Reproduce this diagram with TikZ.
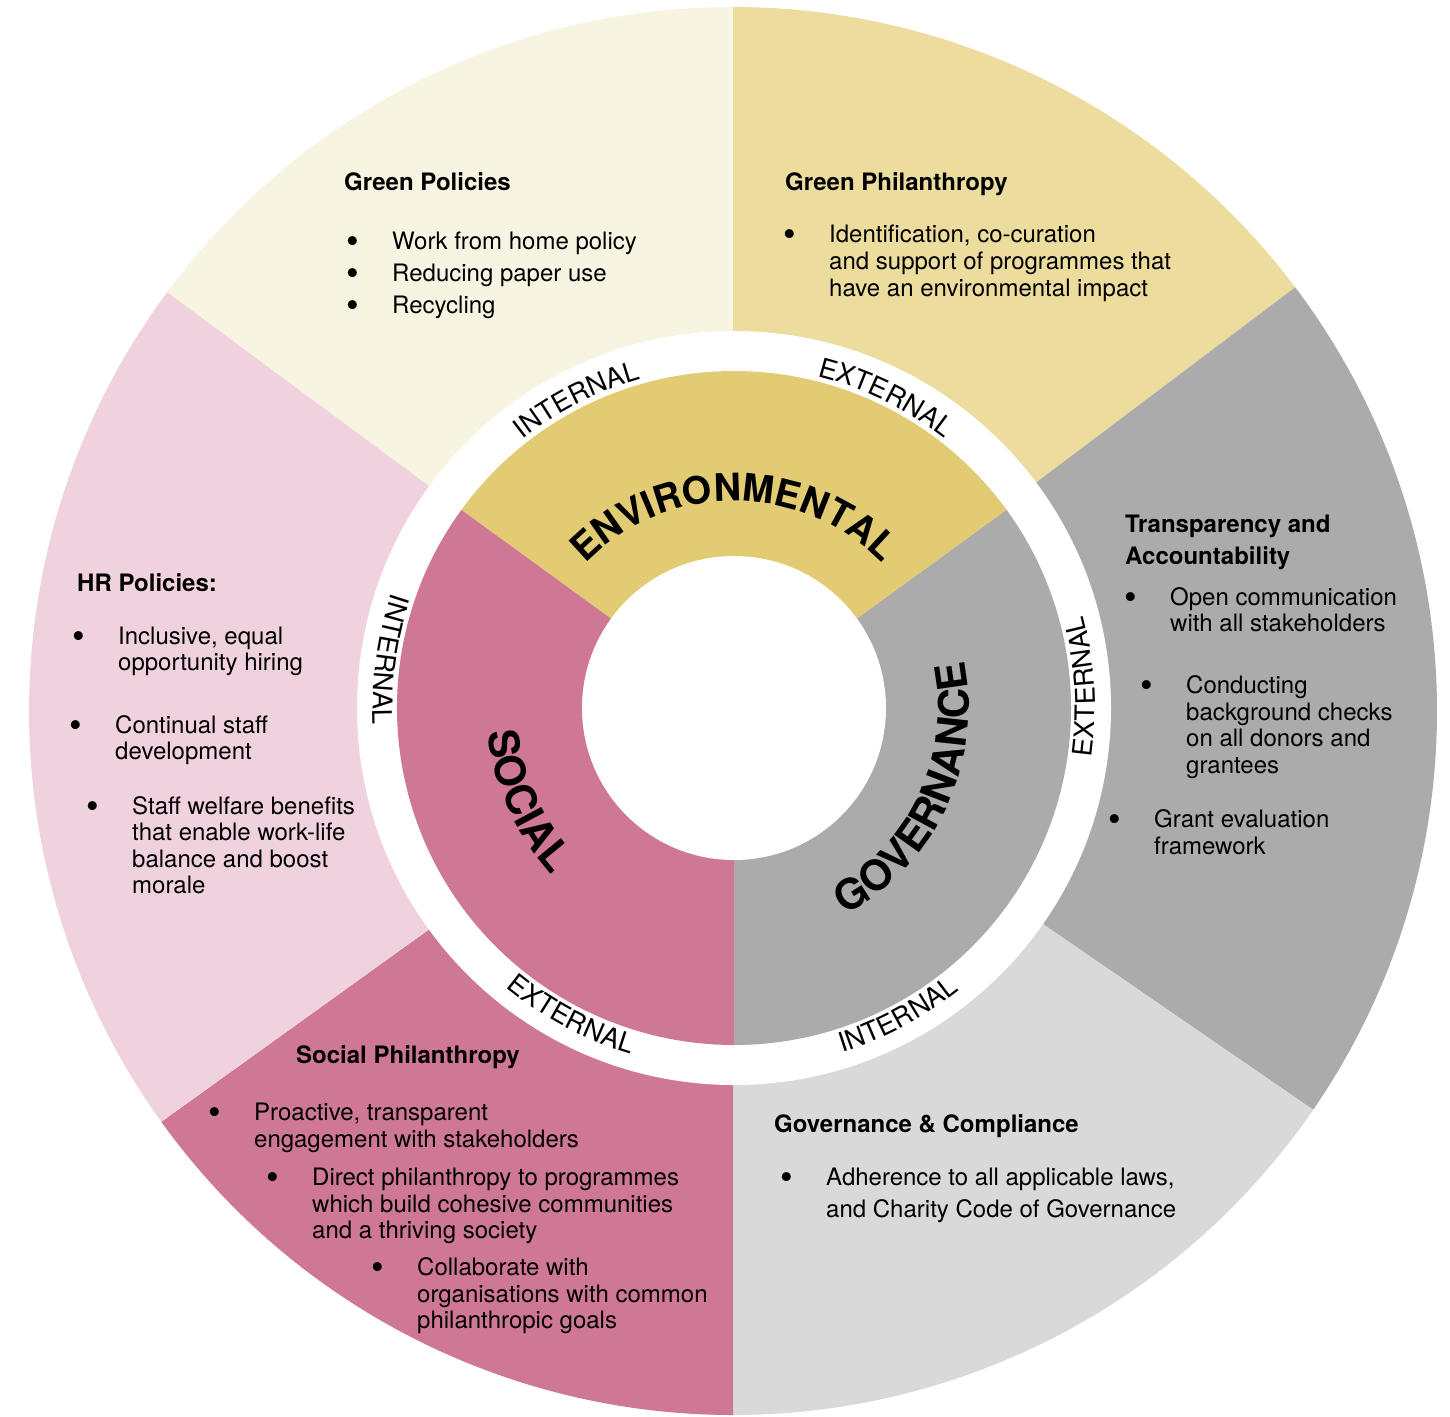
\documentclass[tikz,border=0pt]{standalone}
\usepackage{fontspec}
\usepackage{graphicx}
\setmainfont{TeX Gyre Heros}
\usetikzlibrary{decorations.text}

\definecolor{greenpol}{HTML}{F7F4E2}
\definecolor{greenphil}{HTML}{ECDC9D}
\definecolor{envcol}{HTML}{E3CB74}
\definecolor{govcol}{HTML}{ABABAB}
\definecolor{compcol}{HTML}{D9D9D9}
\definecolor{soccol}{HTML}{CF7896}
\definecolor{hrcol}{HTML}{F0D2DE}

\pgfdeclareradialshading{vignette}{\pgfpoint{0bp}{0bp}}{%
  color(0bp)=(white); color(44bp)=(white); color(71bp)=(black!8)}

\newcommand{\bitem}[1]{%
  \begin{tabular}[t]{@{}p{46pt}@{}l@{}}\raisebox{-4pt}{\scalebox{1.5}{\textbullet}} & \begin{tabular}[t]{@{}l@{}}#1\end{tabular}\end{tabular}}

\tikzset{
  heading/.style={anchor=base west, inner sep=0pt, font=\fontsize{24}{32}\selectfont\bfseries},
  item/.style={anchor=base west, inner sep=0pt, font=\fontsize{24}{#1}\selectfont},
  item/.default=26.5,
  ringtext/.style={decorate, decoration={text along path, text align=center,
      text={|\fontsize{27}{27}\selectfont|#1}}},
  bigtext/.style 2 args={decorate, decoration={text along path, text align=center,
      text={|\fontsize{#1}{#1}\selectfont\bfseries|#2}}}
}

\begin{document}
\begin{tikzpicture}[x=1pt,y=1pt]
	\useasboundingbox (0,0) rectangle (1450,-1416);
	% Fondo
	\shade[shading=vignette] (0,0) rectangle (1450,-1416);

	\begin{scope}[shift={(733,-711)}]
		% Sectores exteriores
		\fill[greenpol] (0,0) -- (90:704) arc[start angle=90, end angle=143.5, radius=704] -- cycle;
		\fill[greenphil] (0,0) -- (37:704) arc[start angle=37, end angle=90, radius=704] -- cycle;
		\fill[govcol] (0,0) -- (-34.5:704) arc[start angle=-34.5, end angle=37, radius=704] -- cycle;
		\fill[compcol] (0,0) -- (-90:704) arc[start angle=-90, end angle=-34.5, radius=704] -- cycle;
		\fill[soccol] (0,0) -- (215.7:704) arc[start angle=215.7, end angle=270, radius=704] -- cycle;
		\fill[hrcol] (0,0) -- (143.5:704) arc[start angle=143.5, end angle=215.7, radius=704] -- cycle;
	\end{scope}

	\begin{scope}[shift={(734,-708)}]
		% Anillo blanco
		\fill[white] (0,0) circle (377);

		% Sectores interiores
		\fill[envcol] (0,0) -- (36:337) arc[start angle=36, end angle=144, radius=337] -- cycle;
		\fill[soccol] (0,0) -- (144:337) arc[start angle=144, end angle=270, radius=337] -- cycle;
		\fill[govcol] (0,0) -- (270:337) arc[start angle=270, end angle=396, radius=337] -- cycle;
		\fill[white] (0,0) circle (152);

		% Etiquetas del anillo
		\path[ringtext=INTERNAL] (147:342) arc[start angle=147, end angle=87, radius=342];
		\path[ringtext=EXTERNAL] (94:342) arc[start angle=94, end angle=34, radius=342];
		\path[ringtext=INTERNAL] (142:361) arc[start angle=142, end angle=202, radius=361];
		\path[ringtext=EXTERNAL] (-26.5:361) arc[start angle=-26.5, end angle=33.5, radius=361];
		\path[ringtext=EXTERNAL] (212:361) arc[start angle=212, end angle=272, radius=361];
		\path[ringtext=INTERNAL] (268:361) arc[start angle=268, end angle=328, radius=361];

		% Pilares
		\path[bigtext={38}{ENVIRONMENTAL}] (150:207) arc[start angle=150, end angle=30, radius=207];
		\path[bigtext={42}{SOCIAL}] (164:247) arc[start angle=164, end angle=244, radius=247];
		\path[bigtext={42}{GOVERNANCE}] (-80:235) arc[start angle=-80, end angle=30, radius=235];
	\end{scope}

	% Green Policies
	\node[heading] (gpTitle) at (344,-190) {Green Policies};
	\node[item] (gp1) at (346,-249.5) {\bitem{Work from home policy}};
	\node[item] (gp2) at (346,-281.5) {\bitem{Reducing paper use}};
	\node[item] (gp3) at (346,-313.5) {\bitem{Recycling}};

	% Green Philanthropy
	\node[heading] (gphTitle) at (785,-190) {Green Philanthropy};
	\node[item=27] (gph1) at (783,-242.5) {\bitem{Identification, co-curation\\and support of programmes that\\have an environmental impact}};

	% Transparency and Accountability
	\node[heading] (trTitle) at (1125,-532) {\begin{tabular}[t]{@{}l@{}}Transparency and\\Accountability\end{tabular}};
	\node[item] (tr1) at (1124,-605) {\bitem{Open communication\\with all stakeholders}};
	\node[item] (tr2) at (1140,-693.5) {\bitem{Conducting\\background checks\\on all donors and\\grantees}};
	\node[item] (tr3) at (1108,-827.5) {\bitem{Grant evaluation\\framework}};

	% HR Policies
	\node[heading] (hrTitle) at (77,-591) {HR Policies:};
	\node[item] (hr1) at (72,-644) {\bitem{Inclusive, equal\\opportunity hiring}};
	\node[item] (hr2) at (69,-733) {\bitem{Continual staff\\development}};
	\node[item] (hr3) at (86,-814) {\bitem{Staff welfare benefits\\that enable work-life\\balance and boost\\morale}};

	% Social Philanthropy
	\node[heading] (spTitle) at (296,-1063) {Social Philanthropy};
	\node[item] (sp1) at (208,-1120.5) {\bitem{Proactive, transparent\\engagement with stakeholders}};
	\node[item] (sp2) at (266,-1185.5) {\bitem{Direct philanthropy to programmes\\which build cohesive communities\\and a thriving society}};
	\node[item] (sp3) at (371,-1275.5) {\bitem{Collaborate with\\organisations with common\\philanthropic goals}};

	% Governance & Compliance
	\node[heading] (gcTitle) at (774,-1132) {Governance \& Compliance};
	\node[item=32] (gc1) at (780,-1185.5) {\bitem{Adherence to all applicable laws,\\and Charity Code of Governance}};
\end{tikzpicture}
\end{document}
